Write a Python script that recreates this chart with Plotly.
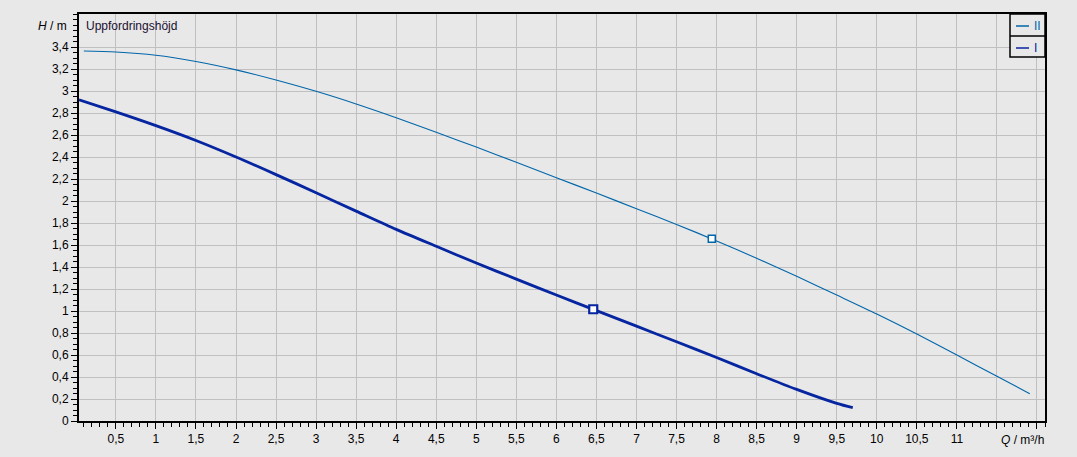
import plotly.graph_objects as go

# ---- data ----
q_curve_ii = [0.1, 0.5, 1, 1.5, 2, 2.5, 3, 3.5, 4, 4.5, 5, 5.5, 6, 6.5, 7, 7.5, 8, 8.5, 9, 9.5, 10, 10.5, 11, 11.5, 11.91]
h_curve_ii = [3.364, 3.355, 3.325, 3.268, 3.192, 3.10, 2.997, 2.882, 2.757, 2.625, 2.49, 2.352, 2.212, 2.072, 1.93, 1.787, 1.637, 1.479, 1.315, 1.145, 0.973, 0.791, 0.60, 0.406, 0.248]

q_curve_i = [0.04, 0.5, 1, 1.5, 2, 2.5, 3, 3.5, 4, 4.5, 5, 5.5, 6, 6.5, 7, 7.5, 8, 8.5, 9, 9.5, 9.7]
h_curve_i = [2.92, 2.81, 2.685, 2.55, 2.40, 2.24, 2.075, 1.908, 1.742, 1.588, 1.436, 1.29, 1.145, 1.003, 0.862, 0.72, 0.577, 0.43, 0.287, 0.16, 0.121]

op_ii_q = [7.94]
op_ii_h = [1.657]
op_i_q = [6.46]
op_i_h = [1.016]

x_tick_vals = [0.5, 1, 1.5, 2, 2.5, 3, 3.5, 4, 4.5, 5, 5.5, 6, 6.5, 7, 7.5, 8, 8.5, 9, 9.5, 10, 10.5, 11, 11.5, 12]
x_tick_text = ["0,5", "1", "1,5", "2", "2,5", "3", "3,5", "4", "4,5", "5", "5,5", "6", "6,5", "7", "7,5", "8", "8,5", "9", "9,5", "10", "10,5", "11", "", ""]
y_tick_vals = [0, 0.2, 0.4, 0.6, 0.8, 1, 1.2, 1.4, 1.6, 1.8, 2, 2.2, 2.4, 2.6, 2.8, 3, 3.2, 3.4]
y_tick_text = ["0", "0,2", "0,4", "0,6", "0,8", "1", "1,2", "1,4", "1,6", "1,8", "2", "2,2", "2,4", "2,6", "2,8", "3", "3,2", "3,4"]

series_names = ["II", "I"]
color_ii = "#0066aa"
color_i = "#0625a0"

BG = "#e8e8e8"
GRID = "#c0c0c0"
FONT = "Liberation Sans, Arial, sans-serif"
FS = 12

fig = go.Figure()
fig.add_trace(go.Scatter(x=q_curve_ii, y=h_curve_ii, mode="lines", name=series_names[0],
                         line=dict(color=color_ii, width=1.1, shape="spline", smoothing=0.8), hoverinfo="skip"))
fig.add_trace(go.Scatter(x=q_curve_i, y=h_curve_i, mode="lines", name=series_names[1],
                         line=dict(color=color_i, width=2.8, shape="spline", smoothing=0.8), hoverinfo="skip"))
fig.add_trace(go.Scatter(x=op_ii_q, y=op_ii_h, mode="markers", showlegend=False,
                         marker=dict(symbol="square", size=7, color="white",
                                     line=dict(color=color_ii, width=1.5)), hoverinfo="skip"))
fig.add_trace(go.Scatter(x=op_i_q, y=op_i_h, mode="markers", showlegend=False,
                         marker=dict(symbol="square", size=8, color="white",
                                     line=dict(color=color_i, width=2.2)), hoverinfo="skip"))

L, R, T, B = 79, 1045, 14, 421
W, H = 1077, 457

fig.update_layout(
    width=W, height=H,
    margin=dict(l=L, r=W - R, t=T, b=H - B, pad=0),
    paper_bgcolor=BG, plot_bgcolor=BG,
    showlegend=False,
    font=dict(family=FONT, size=FS, color="black"),
    xaxis=dict(range=[0.04, 12.1], tickmode="array", tickvals=x_tick_vals, ticktext=x_tick_text,
               showgrid=True, gridcolor=GRID, gridwidth=1, zeroline=False,
               showline=True, linecolor="black", linewidth=2, mirror=True,
               ticks="outside", ticklen=6, tickwidth=1, tickcolor="black",
               minor=dict(tickmode="linear", tick0=0, dtick=0.1, ticks="outside", ticklen=4,
                          tickwidth=1, tickcolor="black", showgrid=False),
               tickfont=dict(size=FS, color="black", family=FONT), fixedrange=True),
    yaxis=dict(range=[0, 3.7], tickmode="array", tickvals=y_tick_vals, ticktext=y_tick_text,
               showgrid=True, gridcolor=GRID, gridwidth=1, zeroline=False,
               showline=True, linecolor="black", linewidth=2, mirror=True,
               ticks="outside", ticklen=6, tickwidth=1, tickcolor="black",
               minor=dict(tickmode="linear", tick0=0, dtick=0.05, ticks="outside", ticklen=4,
                          tickwidth=1, tickcolor="black", showgrid=False),
               tickfont=dict(size=FS, color="black", family=FONT), fixedrange=True),
)

pw = R - L
ph = B - T
def px(x):
    return (x - L) / pw
def py(y):
    return (B - y) / ph

# Axis captions
fig.add_annotation(xref="paper", yref="paper", x=px(69), y=py(26), xanchor="right", yanchor="middle",
                   text="<i>H</i> / m", showarrow=False, font=dict(size=FS, color="black", family=FONT))
fig.add_annotation(xref="paper", yref="paper", x=px(84), y=py(26), xanchor="left", yanchor="middle",
                   text="Uppfordringshöjd", showarrow=False, font=dict(size=FS, color="#1a1030", family=FONT))
fig.add_annotation(xref="paper", yref="paper", x=px(1046), y=py(440), xanchor="right", yanchor="middle",
                   text="<i>Q</i> / m³/h", showarrow=False, font=dict(size=FS, color="black", family=FONT))

# Legend box (drawn with shapes + text)
fig.add_shape(type="rect", xref="paper", yref="paper", x0=px(1010), x1=px(1045), y0=py(57), y1=py(14),
              line=dict(color="black", width=1.5), fillcolor=BG, layer="above")
fig.add_shape(type="line", xref="paper", yref="paper", x0=px(1010), x1=px(1045), y0=py(36), y1=py(36),
              line=dict(color="black", width=1.5), layer="above")
fig.add_shape(type="line", xref="paper", yref="paper", x0=px(1016), x1=px(1029), y0=py(26), y1=py(26),
              line=dict(color=color_ii, width=1.5), layer="above")
fig.add_shape(type="line", xref="paper", yref="paper", x0=px(1016), x1=px(1029), y0=py(48), y1=py(48),
              line=dict(color=color_i, width=1.5), layer="above")
fig.add_annotation(xref="paper", yref="paper", x=px(1032), y=py(26), xanchor="left", yanchor="middle",
                   text=series_names[0], showarrow=False, font=dict(size=FS, color=color_ii, family=FONT))
fig.add_annotation(xref="paper", yref="paper", x=px(1032), y=py(48), xanchor="left", yanchor="middle",
                   text=series_names[1], showarrow=False, font=dict(size=FS, color=color_i, family=FONT))

fig.write_html("out.html", config={"displayModeBar": False, "staticPlot": True},
               post_script="document.body.style.margin='0';document.body.style.padding='0';"
                           "document.body.style.background='#e8e8e8';"
                           "document.documentElement.style.overflow='hidden';")
